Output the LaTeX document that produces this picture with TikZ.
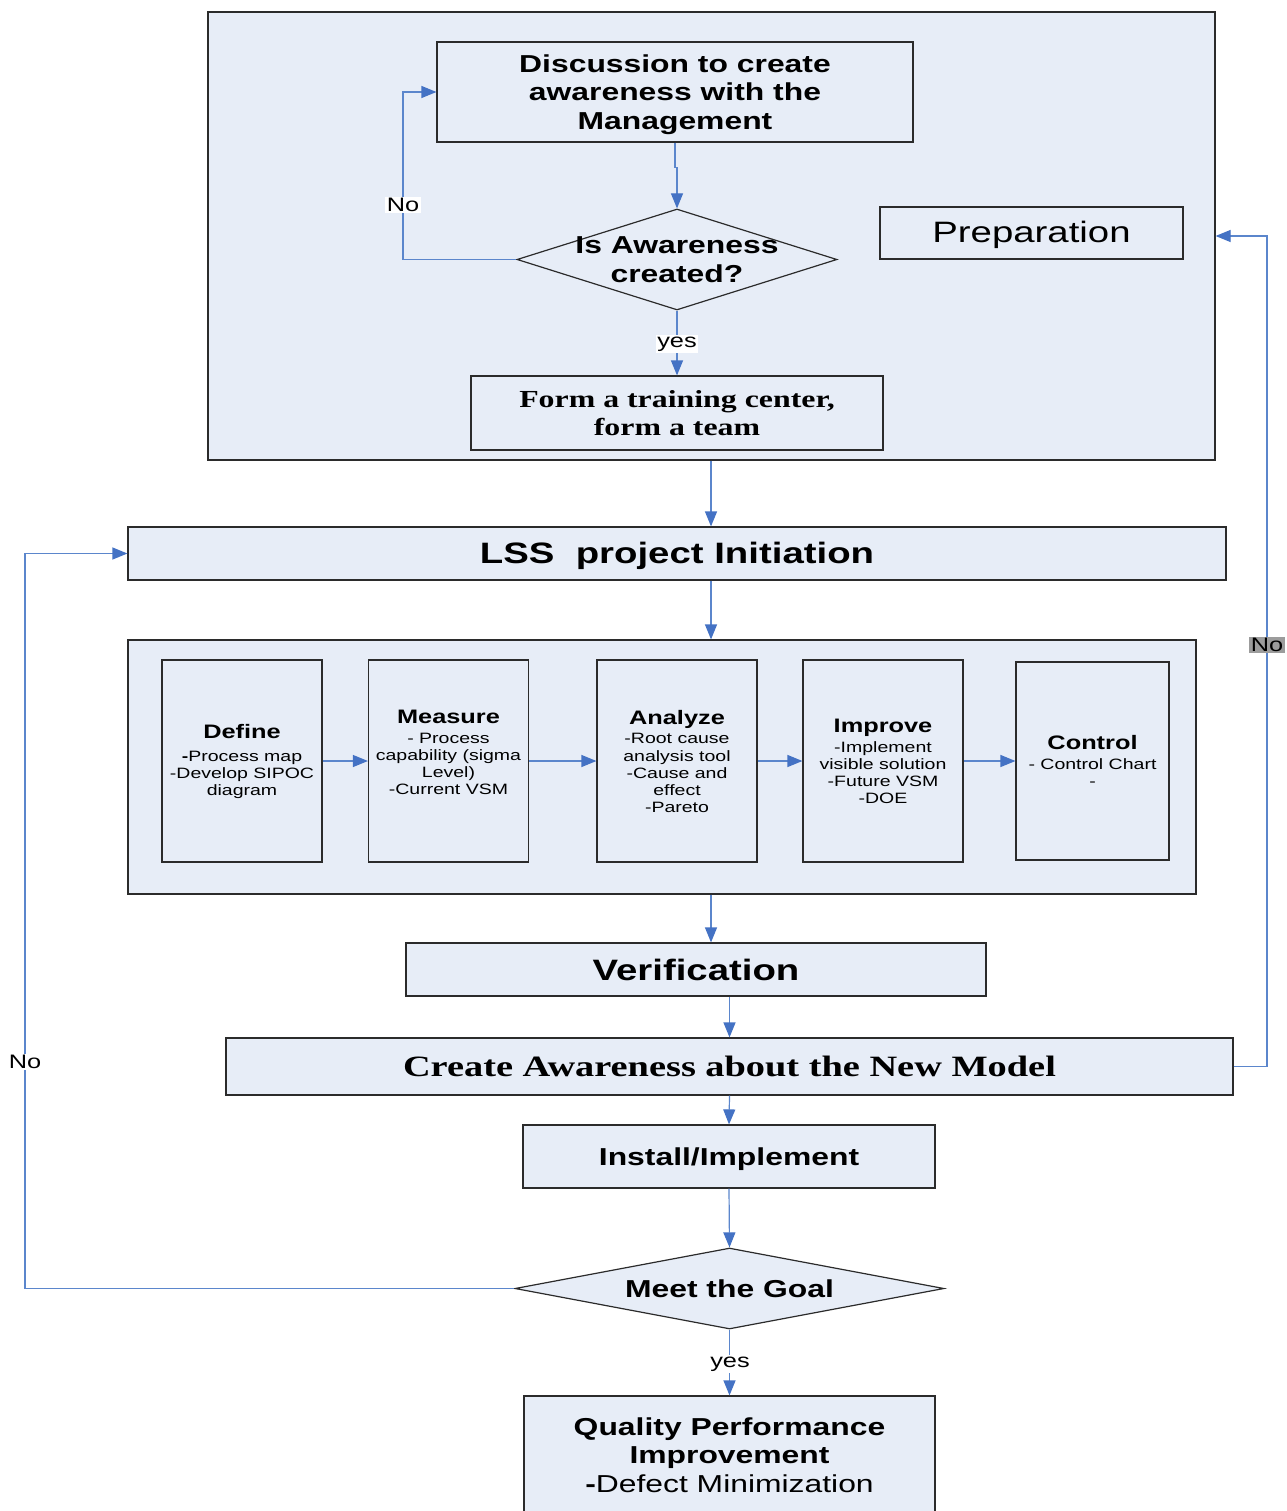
\documentclass[tikz,border=0pt]{standalone}
\usepackage{fontspec}
\setmainfont{Liberation Sans}[FakeStretch=1.3]
\newfontfamily\wideserif{Liberation Serif}[FakeStretch=1.3]
\usetikzlibrary{arrows.meta,shapes.geometric}

\definecolor{boxfill}{HTML}{E7EDF7}
\definecolor{linkblue}{HTML}{5B86CC}
\definecolor{tipblue}{HTML}{4472C4}
\definecolor{edgegray}{HTML}{2B2B2B}
\definecolor{notag}{HTML}{9C9C9C}

\newcommand\szhead{\fontsize{24.5}{28.5}\selectfont}
\newcommand\szbig{\fontsize{29.5}{33}\selectfont}
\newcommand\sztitle{\fontsize{19.5}{21}\selectfont}
\newcommand\szbody{\fontsize{15}{17}\selectfont}
\newcommand\sztag{\fontsize{19.5}{22}\selectfont}
% lower the visible text without changing the size the node sees
\newcommand\lowertext[2]{\raisebox{-#1}[\height][\depth]{#2}}

\tikzset{
  box/.style={draw=edgegray, line width=1.2pt, fill=boxfill, inner sep=0pt, align=center},
  phase/.style={box, minimum width=160pt, minimum height=202pt, font=\szbody},
  dia/.style={box, shape=diamond, aspect=1},
  conn/.style={draw=linkblue, line width=1.2pt, -{Triangle[length=15pt,width=12pt,color=tipblue]}},
  tag/.style={fill=white, inner sep=1.5pt, font=\sztag},
}

\begin{document}
\begin{tikzpicture}[x=1pt,y=-1pt]
\useasboundingbox[fill=white] (0,0) rectangle (1286,1511);

% preparation stage
\node[box, minimum width=1007pt, minimum height=448pt] (prep) at (711.5,236) {};
\node[box, minimum width=476pt, minimum height=100pt, font=\szhead\bfseries] (disc) at (675,92)
  {\lowertext{3pt}{\begin{tabular}{@{}c@{}}Discussion to create\\awareness with the\\Management\end{tabular}}};
\node[dia, minimum width=320pt, minimum height=101pt, font=\szhead\bfseries] (ask) at (677,259.5)
  {\makebox[0pt]{\lowertext{3pt}{\begin{tabular}{@{}c@{}}Is Awareness\\created?\end{tabular}}}};
\node[box, minimum width=303pt, minimum height=52pt, font=\fontsize{29.5}{33}\selectfont] (prepname) at (1031.5,233)
  {\lowertext{2pt}{Preparation}};
\node[box, minimum width=412pt, minimum height=74pt, font=\wideserif\szhead\bfseries] (form) at (677,413)
  {Form a training center,\\form a team};

% project initiation
\node[box, minimum width=1098pt, minimum height=53pt, font=\szbig\bfseries] (lss) at (677,553.5)
  {\lowertext{2pt}{LSS\ \ project Initiation}};

% DMAIC phases
\node[box, minimum width=1068pt, minimum height=254pt] (dmaic) at (662,767) {};
\node[phase] (define) at (242,761)
  {{\sztitle\bfseries Define}\\[6pt]
   \textbf{-}Process map\\ -Develop SIPOC\\ diagram};
\node[phase] (measure) at (448.5,761)
  {{\sztitle\bfseries Measure}\\[3pt]
   - Process\\ capability (sigma\\ Level)\\ -Current VSM\\ \mbox{}};
\node[phase] (analyze) at (677,761)
  {{\sztitle\bfseries Analyze}\\[3pt]
   -Root cause\\ analysis tool\\ -Cause and\\ effect\\ -Pareto};
\node[phase] (improve) at (883,761)
  {{\sztitle\bfseries Improve}\\[3pt]
   -Implement\\ visible solution\\ -Future VSM\\ -DOE};
\node[phase, minimum width=153pt, minimum height=198pt] (control) at (1092.5,761)
  {{\sztitle\bfseries Control}\\[3pt]
   - Control Chart\\ -};

% verification and roll-out
\node[box, minimum width=580pt, minimum height=53pt, font=\szbig\bfseries] (verif) at (696,969.5)
  {Verification};
\node[box, minimum width=1007pt, minimum height=57pt, font=\wideserif\szbig\bfseries] (create) at (729.5,1066.5)
  {Create Awareness about the New Model};
\node[box, minimum width=412pt, minimum height=63pt, font=\szhead\bfseries] (install) at (729,1156.5)
  {\lowertext{3pt}{Install/Implement}};
\node[dia, minimum width=429pt, minimum height=81pt, font=\szhead\bfseries] (meet) at (729.5,1288.5)
  {\makebox[0pt]{Meet the Goal}};
\node[box, minimum width=411pt, minimum height=118pt, font=\szhead] (quality) at (729.5,1455)
  {\textbf{Quality Performance}\\\textbf{Improvement}\\\textbf{-}Defect Minimization};

% routing coordinates
\coordinate (spine) at (711,0);
\coordinate (ltop) at (403,0);
\coordinate (lrail) at (25,0);
\coordinate (rrail) at (1267,0);

% connectors inside the preparation stage
\draw[conn] (disc.south) -- ++(0,25) -| (ask.north);
\draw[conn] (ask.west) -| (ltop |- disc.west) -- (disc.west);
\draw[conn] (ask.south) -- (form.north);
\node[tag] (noask) at (403,205) {No};
\node[tag] (yesask) at (677,344) {yes};

% main flow
\draw[conn] (spine |- prep.south) -- (spine |- lss.north);
\draw[conn] (spine |- lss.south) -- (spine |- dmaic.north);
\draw[conn] (define.east) -- (measure.west);
\draw[conn] (measure.east) -- (analyze.west);
\draw[conn] (analyze.east) -- (improve.west);
\draw[conn] (improve.east) -- (control.west);
\draw[conn] (spine |- dmaic.south) -- (spine |- verif.north);
\draw[conn] (create.north |- verif.south) -- (create.north);
\draw[conn] (create.south) -- (install.north);
\draw[conn] (install.south) -- (meet.north);
\draw[conn] (meet.south) -- (quality.north);
\node[tag] (yesmeet) at (730,1364) {yes};

% feedback loops
\draw[conn] (meet.west) -| (lrail |- lss.west) -- (lss.west);
\node[tag] (nomeet) at (25,1062) {No};
\draw[conn] (create.east) -| (rrail |- prep.east) -- (prep.east);
\node[tag, fill=notag] (nocreate) at (1267,645) {No};
\end{tikzpicture}
\end{document}
